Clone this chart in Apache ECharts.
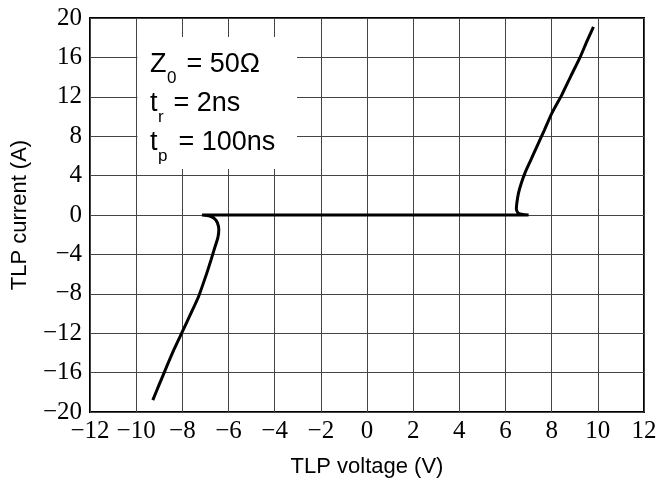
<!DOCTYPE html>
<html>
<head>
<meta charset="utf-8">
<script src="https://cdn.jsdelivr.net/npm/echarts@6/dist/echarts.min.js"></script>
<style>
html,body{margin:0;padding:0;background:#fff;}
#chart{width:662px;height:491px;}
</style>
</head>
<body>
<div id="chart"></div>
<script>
// TLP I-V curve (voltage in V, current in A), traced in drawing order
const tlpVoltage = [-9.28, -9.0, -8.68, -8.35, -8.03, -7.65, -7.3, -6.94, -6.75, -6.58, -6.46, -6.42, -6.48, -6.62, -6.85, -7.15,
  -4.0, 0.0, 4.0, 7.0,
  6.75, 6.55, 6.47, 6.49, 6.56, 6.68, 6.85, 7.1, 7.35, 7.68, 8.0, 8.44, 8.85, 9.23, 9.52, 9.81];
const tlpCurrent = [-18.8, -17.2, -15.4, -13.6, -12.0, -10.1, -8.3, -5.9, -4.5, -3.2, -2.3, -1.5, -0.8, -0.35, -0.08, 0.0,
  0.0, 0.0, 0.0, 0.0,
  0.05, 0.2, 0.6, 1.2, 2.2, 3.2, 4.3, 5.6, 6.9, 8.6, 10.3, 12.2, 14.2, 16.0, 17.6, 19.1];
const xTicks = {min: -12, max: 12, interval: 2};
const yTicks = {min: -20, max: 20, interval: 4};
const infoLines = ['Z', '0', ' = 50Ω', 't', 'r', ' = 2ns', 't', 'p', ' = 100ns'];

const fmt = v => (v < 0 ? '\u2212' + Math.abs(v) : String(v));
const chart = echarts.init(document.getElementById('chart'), null, {renderer: 'canvas'});
const sansFont = '"Liberation Sans", Arial, sans-serif';
const serifFont = '"Liberation Serif", "Times New Roman", serif';

const textEl = (txt, x, y, size) => ({
  type: 'text', z: 101, left: x, top: y,
  style: {text: txt, fill: '#000', font: size + 'px ' + sansFont}
});

chart.setOption({
  animation: false,
  backgroundColor: '#fff',
  grid: {left: 90, right: 18, top: 18, bottom: 79, show: true, borderColor: '#000', borderWidth: 2, backgroundColor: 'transparent'},
  xAxis: {
    type: 'value', min: xTicks.min, max: xTicks.max, interval: xTicks.interval,
    name: 'TLP voltage (V)', nameLocation: 'middle', nameGap: 44,
    nameTextStyle: {fontFamily: sansFont, fontSize: 22, color: '#000'},
    axisLine: {show: false}, axisTick: {show: false},
    axisLabel: {fontFamily: serifFont, fontSize: 25, color: '#000', margin: 7, formatter: fmt},
    splitLine: {show: true, lineStyle: {color: '#444', width: 1}}
  },
  yAxis: {
    type: 'value', min: yTicks.min, max: yTicks.max, interval: yTicks.interval,
    name: 'TLP current (A)', nameLocation: 'middle', nameGap: 59,
    nameTextStyle: {fontFamily: sansFont, fontSize: 22, color: '#000'},
    axisLine: {show: false}, axisTick: {show: false},
    axisLabel: {fontFamily: serifFont, fontSize: 25, color: '#000', margin: 8, formatter: fmt},
    splitLine: {show: true, lineStyle: {color: '#444', width: 1}}
  },
  series: [{
    type: 'line',
    data: tlpVoltage.map((v, i) => [v, tlpCurrent[i]]),
    showSymbol: false, smooth: 0.2,
    lineStyle: {color: '#000', width: 3},
    z: 3
  }],
  graphic: [
    {type: 'rect', z: 100, shape: {x: 137.5, y: 37, width: 159.5, height: 132}, style: {fill: '#fff'}},
    textEl(infoLines[0], 150, 51, 27),
    textEl(infoLines[1], 167, 70, 17),
    textEl(infoLines[2], 179, 51, 27),
    textEl(infoLines[3], 150, 90, 27),
    textEl(infoLines[4], 158, 109, 17),
    textEl(infoLines[5], 166, 90, 27),
    textEl(infoLines[6], 150, 129, 27),
    textEl(infoLines[7], 158, 148, 17),
    textEl(infoLines[8], 171, 129, 27)
  ]
});
</script>
</body>
</html>
